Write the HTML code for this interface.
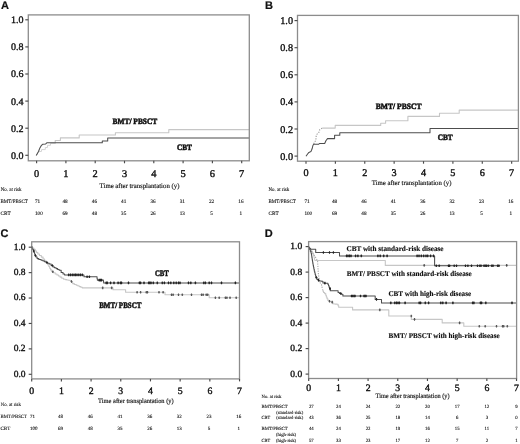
<!DOCTYPE html>
<html><head><meta charset="utf-8"><title>Figure</title>
<style>html,body{margin:0;padding:0;background:#fff;overflow:hidden;}svg{display:block;filter:grayscale(1) blur(0.35px);text-rendering:geometricPrecision;}</style>
</head><body><svg width="520" height="444" viewBox="0 0 520 444"><text x="1.10" y="9.00" font-family="Liberation Sans, sans-serif" font-size="11.00" font-weight="bold" text-anchor="start" fill="#111"  stroke="#111" stroke-width="0.20">A</text><path d="M36.60 155.30 L38.50 151.50 L41.50 151.50 L41.50 149.60 L45.30 149.60 L45.30 147.50 L47.50 147.50 L47.50 145.30 L50.50 145.30 L50.50 143.20" fill="none" stroke="#d4d4d4" stroke-width="1.00" stroke-linejoin="round" /><path d="M50.50 143.20 L55.20 143.20 L55.20 140.50 L60.40 140.50 L60.40 137.90 L79.20 137.90 L79.20 135.00 L115.40 135.00 L115.40 132.70 L168.80 132.70 L168.80 129.60 L249.30 129.60" fill="none" stroke="#c6c6c6" stroke-width="1.10" stroke-linejoin="round" /><path d="M36.20 155.40 L38.50 151.50 L39.90 147.90 L41.20 145.70 L42.60 144.30 L45.70 143.90 L46.80 142.80 L102.30 142.80 L102.30 141.00 L107.70 141.00 L107.70 138.00 L249.30 138.00" fill="none" stroke="#4d4d4d" stroke-width="1.05" stroke-linejoin="round" /><rect x="28.30" y="14.90" width="221.00" height="145.90" fill="none" stroke="#8c8c8c" stroke-width="1.30"/><line x1="25.30" y1="155.30" x2="28.30" y2="155.30" stroke="#4a4a4a" stroke-width="1.15"/><text x="23.40" y="158.70" font-family="Liberation Serif, serif" font-size="10.00" font-weight="normal" text-anchor="end" fill="#111"  stroke="#111" stroke-width="0.36">0.0</text><line x1="25.30" y1="128.20" x2="28.30" y2="128.20" stroke="#4a4a4a" stroke-width="1.15"/><text x="23.40" y="131.60" font-family="Liberation Serif, serif" font-size="10.00" font-weight="normal" text-anchor="end" fill="#111"  stroke="#111" stroke-width="0.36">0.2</text><line x1="25.30" y1="101.10" x2="28.30" y2="101.10" stroke="#4a4a4a" stroke-width="1.15"/><text x="23.40" y="104.50" font-family="Liberation Serif, serif" font-size="10.00" font-weight="normal" text-anchor="end" fill="#111"  stroke="#111" stroke-width="0.36">0.4</text><line x1="25.30" y1="74.00" x2="28.30" y2="74.00" stroke="#4a4a4a" stroke-width="1.15"/><text x="23.40" y="77.40" font-family="Liberation Serif, serif" font-size="10.00" font-weight="normal" text-anchor="end" fill="#111"  stroke="#111" stroke-width="0.36">0.6</text><line x1="25.30" y1="46.90" x2="28.30" y2="46.90" stroke="#4a4a4a" stroke-width="1.15"/><text x="23.40" y="50.30" font-family="Liberation Serif, serif" font-size="10.00" font-weight="normal" text-anchor="end" fill="#111"  stroke="#111" stroke-width="0.36">0.8</text><line x1="25.30" y1="19.80" x2="28.30" y2="19.80" stroke="#4a4a4a" stroke-width="1.15"/><text x="23.40" y="23.20" font-family="Liberation Serif, serif" font-size="10.00" font-weight="normal" text-anchor="end" fill="#111"  stroke="#111" stroke-width="0.36">1.0</text><line x1="36.60" y1="160.80" x2="36.60" y2="163.30" stroke="#4a4a4a" stroke-width="1.15"/><text x="36.60" y="176.80" font-family="Liberation Serif, serif" font-size="10.40" font-weight="normal" text-anchor="middle" fill="#111"  stroke="#111" stroke-width="0.38">0</text><line x1="65.90" y1="160.80" x2="65.90" y2="163.30" stroke="#4a4a4a" stroke-width="1.15"/><text x="65.90" y="176.80" font-family="Liberation Serif, serif" font-size="10.40" font-weight="normal" text-anchor="middle" fill="#111"  stroke="#111" stroke-width="0.38">1</text><line x1="95.20" y1="160.80" x2="95.20" y2="163.30" stroke="#4a4a4a" stroke-width="1.15"/><text x="95.20" y="176.80" font-family="Liberation Serif, serif" font-size="10.40" font-weight="normal" text-anchor="middle" fill="#111"  stroke="#111" stroke-width="0.38">2</text><line x1="124.50" y1="160.80" x2="124.50" y2="163.30" stroke="#4a4a4a" stroke-width="1.15"/><text x="124.50" y="176.80" font-family="Liberation Serif, serif" font-size="10.40" font-weight="normal" text-anchor="middle" fill="#111"  stroke="#111" stroke-width="0.38">3</text><line x1="153.80" y1="160.80" x2="153.80" y2="163.30" stroke="#4a4a4a" stroke-width="1.15"/><text x="153.80" y="176.80" font-family="Liberation Serif, serif" font-size="10.40" font-weight="normal" text-anchor="middle" fill="#111"  stroke="#111" stroke-width="0.38">4</text><line x1="183.10" y1="160.80" x2="183.10" y2="163.30" stroke="#4a4a4a" stroke-width="1.15"/><text x="183.10" y="176.80" font-family="Liberation Serif, serif" font-size="10.40" font-weight="normal" text-anchor="middle" fill="#111"  stroke="#111" stroke-width="0.38">5</text><line x1="212.40" y1="160.80" x2="212.40" y2="163.30" stroke="#4a4a4a" stroke-width="1.15"/><text x="212.40" y="176.80" font-family="Liberation Serif, serif" font-size="10.40" font-weight="normal" text-anchor="middle" fill="#111"  stroke="#111" stroke-width="0.38">6</text><line x1="241.70" y1="160.80" x2="241.70" y2="163.30" stroke="#4a4a4a" stroke-width="1.15"/><text x="241.70" y="176.80" font-family="Liberation Serif, serif" font-size="10.40" font-weight="normal" text-anchor="middle" fill="#111"  stroke="#111" stroke-width="0.38">7</text><text x="112.50" y="123.50" font-family="Liberation Serif, serif" font-size="8.20" font-weight="bold" text-anchor="start" fill="#111" textLength="44.80" lengthAdjust="spacingAndGlyphs"  stroke="#111" stroke-width="0.50">BMT/ PBSCT</text><text x="176.90" y="150.00" font-family="Liberation Serif, serif" font-size="8.20" font-weight="bold" text-anchor="start" fill="#111" textLength="15.00" lengthAdjust="spacingAndGlyphs"  stroke="#111" stroke-width="0.50">CBT</text><text x="99.60" y="187.90" font-family="Liberation Serif, serif" font-size="7.00" font-weight="normal" text-anchor="start" fill="#111" textLength="79.80" lengthAdjust="spacingAndGlyphs"  stroke="#111" stroke-width="0.15">Time after transplantation (y)</text><text x="0.80" y="190.80" font-family="Liberation Serif, serif" font-size="5.20" font-weight="normal" text-anchor="start" fill="#111" textLength="20.70" lengthAdjust="spacingAndGlyphs"  stroke="#111" stroke-width="0.11">No. at risk</text><text x="0.50" y="203.20" font-family="Liberation Serif, serif" font-size="5.20" font-weight="normal" text-anchor="start" fill="#111" textLength="27.30" lengthAdjust="spacingAndGlyphs"  stroke="#111" stroke-width="0.11">BMT/PBSCT</text><text x="0.50" y="215.00" font-family="Liberation Serif, serif" font-size="5.20" font-weight="normal" text-anchor="start" fill="#111"  stroke="#111" stroke-width="0.11">CBT</text><text x="35.00" y="203.20" font-family="Liberation Serif, serif" font-size="5.20" font-weight="normal" text-anchor="start" fill="#111"  stroke="#111" stroke-width="0.11">71</text><text x="65.10" y="203.20" font-family="Liberation Serif, serif" font-size="5.20" font-weight="normal" text-anchor="middle" fill="#111"  stroke="#111" stroke-width="0.11">48</text><text x="94.40" y="203.20" font-family="Liberation Serif, serif" font-size="5.20" font-weight="normal" text-anchor="middle" fill="#111"  stroke="#111" stroke-width="0.11">46</text><text x="123.70" y="203.20" font-family="Liberation Serif, serif" font-size="5.20" font-weight="normal" text-anchor="middle" fill="#111"  stroke="#111" stroke-width="0.11">41</text><text x="153.00" y="203.20" font-family="Liberation Serif, serif" font-size="5.20" font-weight="normal" text-anchor="middle" fill="#111"  stroke="#111" stroke-width="0.11">36</text><text x="182.30" y="203.20" font-family="Liberation Serif, serif" font-size="5.20" font-weight="normal" text-anchor="middle" fill="#111"  stroke="#111" stroke-width="0.11">31</text><text x="211.60" y="203.20" font-family="Liberation Serif, serif" font-size="5.20" font-weight="normal" text-anchor="middle" fill="#111"  stroke="#111" stroke-width="0.11">22</text><text x="240.90" y="203.20" font-family="Liberation Serif, serif" font-size="5.20" font-weight="normal" text-anchor="middle" fill="#111"  stroke="#111" stroke-width="0.11">16</text><text x="35.00" y="215.00" font-family="Liberation Serif, serif" font-size="5.20" font-weight="normal" text-anchor="start" fill="#111"  stroke="#111" stroke-width="0.11">100</text><text x="65.10" y="215.00" font-family="Liberation Serif, serif" font-size="5.20" font-weight="normal" text-anchor="middle" fill="#111"  stroke="#111" stroke-width="0.11">69</text><text x="94.40" y="215.00" font-family="Liberation Serif, serif" font-size="5.20" font-weight="normal" text-anchor="middle" fill="#111"  stroke="#111" stroke-width="0.11">48</text><text x="123.70" y="215.00" font-family="Liberation Serif, serif" font-size="5.20" font-weight="normal" text-anchor="middle" fill="#111"  stroke="#111" stroke-width="0.11">35</text><text x="153.00" y="215.00" font-family="Liberation Serif, serif" font-size="5.20" font-weight="normal" text-anchor="middle" fill="#111"  stroke="#111" stroke-width="0.11">26</text><text x="182.30" y="215.00" font-family="Liberation Serif, serif" font-size="5.20" font-weight="normal" text-anchor="middle" fill="#111"  stroke="#111" stroke-width="0.11">13</text><text x="211.60" y="215.00" font-family="Liberation Serif, serif" font-size="5.20" font-weight="normal" text-anchor="middle" fill="#111"  stroke="#111" stroke-width="0.11">5</text><text x="240.90" y="215.00" font-family="Liberation Serif, serif" font-size="5.20" font-weight="normal" text-anchor="middle" fill="#111"  stroke="#111" stroke-width="0.11">1</text><text x="265.00" y="9.00" font-family="Liberation Sans, sans-serif" font-size="11.00" font-weight="bold" text-anchor="start" fill="#111"  stroke="#111" stroke-width="0.20">B</text><path d="M313.70 143.90 L314.50 142.30 L315.80 140.20 L316.20 136.20 L317.00 134.20 L319.00 132.10 L319.80 129.70 L322.20 128.10" fill="none" stroke="#9a9a9a" stroke-width="1.1" stroke-dasharray="1.2 1.3"/><path d="M322.20 128.10 L335.20 128.10 L335.20 125.40 L380.70 125.40 L380.70 123.30 L385.60 123.30 L385.60 120.80 L407.90 120.80 L407.90 116.40 L439.50 116.40 L439.50 113.30 L459.20 113.30 L459.20 110.10 L518.40 110.10" fill="none" stroke="#c6c6c6" stroke-width="1.10" stroke-linejoin="round" /><path d="M306.00 156.20 L307.60 154.00 L308.90 152.40 L310.90 151.60 L312.10 148.80 L312.90 145.50 L313.70 144.30 L318.60 144.30 L319.40 143.50 L324.70 143.50 L325.90 140.70 L327.50 138.60 L334.60 138.60 L334.60 135.20 L339.80 135.20 L339.80 132.70 L430.00 132.70 L430.00 128.50 L518.40 128.50" fill="none" stroke="#4d4d4d" stroke-width="1.05" stroke-linejoin="round" /><rect x="297.50" y="15.40" width="220.90" height="145.80" fill="none" stroke="#8c8c8c" stroke-width="1.30"/><line x1="294.50" y1="156.10" x2="297.50" y2="156.10" stroke="#4a4a4a" stroke-width="1.15"/><text x="293.00" y="159.60" font-family="Liberation Serif, serif" font-size="10.20" font-weight="normal" text-anchor="end" fill="#111"  stroke="#111" stroke-width="0.36">0.0</text><line x1="294.50" y1="129.00" x2="297.50" y2="129.00" stroke="#4a4a4a" stroke-width="1.15"/><text x="293.00" y="132.50" font-family="Liberation Serif, serif" font-size="10.20" font-weight="normal" text-anchor="end" fill="#111"  stroke="#111" stroke-width="0.36">0.2</text><line x1="294.50" y1="101.90" x2="297.50" y2="101.90" stroke="#4a4a4a" stroke-width="1.15"/><text x="293.00" y="105.40" font-family="Liberation Serif, serif" font-size="10.20" font-weight="normal" text-anchor="end" fill="#111"  stroke="#111" stroke-width="0.36">0.4</text><line x1="294.50" y1="74.80" x2="297.50" y2="74.80" stroke="#4a4a4a" stroke-width="1.15"/><text x="293.00" y="78.30" font-family="Liberation Serif, serif" font-size="10.20" font-weight="normal" text-anchor="end" fill="#111"  stroke="#111" stroke-width="0.36">0.6</text><line x1="294.50" y1="47.70" x2="297.50" y2="47.70" stroke="#4a4a4a" stroke-width="1.15"/><text x="293.00" y="51.20" font-family="Liberation Serif, serif" font-size="10.20" font-weight="normal" text-anchor="end" fill="#111"  stroke="#111" stroke-width="0.36">0.8</text><line x1="294.50" y1="20.60" x2="297.50" y2="20.60" stroke="#4a4a4a" stroke-width="1.15"/><text x="293.00" y="24.10" font-family="Liberation Serif, serif" font-size="10.20" font-weight="normal" text-anchor="end" fill="#111"  stroke="#111" stroke-width="0.36">1.0</text><line x1="306.00" y1="161.20" x2="306.00" y2="163.70" stroke="#4a4a4a" stroke-width="1.15"/><text x="306.00" y="175.50" font-family="Liberation Serif, serif" font-size="10.20" font-weight="normal" text-anchor="middle" fill="#111"  stroke="#111" stroke-width="0.38">0</text><line x1="335.38" y1="161.20" x2="335.38" y2="163.70" stroke="#4a4a4a" stroke-width="1.15"/><text x="335.38" y="175.50" font-family="Liberation Serif, serif" font-size="10.20" font-weight="normal" text-anchor="middle" fill="#111"  stroke="#111" stroke-width="0.38">1</text><line x1="364.76" y1="161.20" x2="364.76" y2="163.70" stroke="#4a4a4a" stroke-width="1.15"/><text x="364.76" y="175.50" font-family="Liberation Serif, serif" font-size="10.20" font-weight="normal" text-anchor="middle" fill="#111"  stroke="#111" stroke-width="0.38">2</text><line x1="394.14" y1="161.20" x2="394.14" y2="163.70" stroke="#4a4a4a" stroke-width="1.15"/><text x="394.14" y="175.50" font-family="Liberation Serif, serif" font-size="10.20" font-weight="normal" text-anchor="middle" fill="#111"  stroke="#111" stroke-width="0.38">3</text><line x1="423.52" y1="161.20" x2="423.52" y2="163.70" stroke="#4a4a4a" stroke-width="1.15"/><text x="423.52" y="175.50" font-family="Liberation Serif, serif" font-size="10.20" font-weight="normal" text-anchor="middle" fill="#111"  stroke="#111" stroke-width="0.38">4</text><line x1="452.90" y1="161.20" x2="452.90" y2="163.70" stroke="#4a4a4a" stroke-width="1.15"/><text x="452.90" y="175.50" font-family="Liberation Serif, serif" font-size="10.20" font-weight="normal" text-anchor="middle" fill="#111"  stroke="#111" stroke-width="0.38">5</text><line x1="482.28" y1="161.20" x2="482.28" y2="163.70" stroke="#4a4a4a" stroke-width="1.15"/><text x="482.28" y="175.50" font-family="Liberation Serif, serif" font-size="10.20" font-weight="normal" text-anchor="middle" fill="#111"  stroke="#111" stroke-width="0.38">6</text><line x1="511.66" y1="161.20" x2="511.66" y2="163.70" stroke="#4a4a4a" stroke-width="1.15"/><text x="511.66" y="175.50" font-family="Liberation Serif, serif" font-size="10.20" font-weight="normal" text-anchor="middle" fill="#111"  stroke="#111" stroke-width="0.38">7</text><text x="375.80" y="108.80" font-family="Liberation Serif, serif" font-size="8.20" font-weight="bold" text-anchor="start" fill="#111" textLength="45.70" lengthAdjust="spacingAndGlyphs"  stroke="#111" stroke-width="0.50">BMT/ PBSCT</text><text x="437.70" y="140.20" font-family="Liberation Serif, serif" font-size="8.20" font-weight="bold" text-anchor="start" fill="#111" textLength="15.00" lengthAdjust="spacingAndGlyphs"  stroke="#111" stroke-width="0.50">CBT</text><text x="371.70" y="184.50" font-family="Liberation Serif, serif" font-size="7.00" font-weight="normal" text-anchor="start" fill="#111" textLength="79.80" lengthAdjust="spacingAndGlyphs"  stroke="#111" stroke-width="0.15">Time after transplantation (y)</text><text x="268.50" y="190.80" font-family="Liberation Serif, serif" font-size="5.20" font-weight="normal" text-anchor="start" fill="#111" textLength="20.70" lengthAdjust="spacingAndGlyphs"  stroke="#111" stroke-width="0.11">No. at risk</text><text x="268.50" y="203.20" font-family="Liberation Serif, serif" font-size="5.20" font-weight="normal" text-anchor="start" fill="#111" textLength="27.30" lengthAdjust="spacingAndGlyphs"  stroke="#111" stroke-width="0.11">BMT/PBSCT</text><text x="268.50" y="215.00" font-family="Liberation Serif, serif" font-size="5.20" font-weight="normal" text-anchor="start" fill="#111"  stroke="#111" stroke-width="0.11">CBT</text><text x="304.40" y="203.20" font-family="Liberation Serif, serif" font-size="5.20" font-weight="normal" text-anchor="start" fill="#111"  stroke="#111" stroke-width="0.11">71</text><text x="334.58" y="203.20" font-family="Liberation Serif, serif" font-size="5.20" font-weight="normal" text-anchor="middle" fill="#111"  stroke="#111" stroke-width="0.11">48</text><text x="363.96" y="203.20" font-family="Liberation Serif, serif" font-size="5.20" font-weight="normal" text-anchor="middle" fill="#111"  stroke="#111" stroke-width="0.11">46</text><text x="393.34" y="203.20" font-family="Liberation Serif, serif" font-size="5.20" font-weight="normal" text-anchor="middle" fill="#111"  stroke="#111" stroke-width="0.11">41</text><text x="422.72" y="203.20" font-family="Liberation Serif, serif" font-size="5.20" font-weight="normal" text-anchor="middle" fill="#111"  stroke="#111" stroke-width="0.11">36</text><text x="452.10" y="203.20" font-family="Liberation Serif, serif" font-size="5.20" font-weight="normal" text-anchor="middle" fill="#111"  stroke="#111" stroke-width="0.11">32</text><text x="481.48" y="203.20" font-family="Liberation Serif, serif" font-size="5.20" font-weight="normal" text-anchor="middle" fill="#111"  stroke="#111" stroke-width="0.11">23</text><text x="510.86" y="203.20" font-family="Liberation Serif, serif" font-size="5.20" font-weight="normal" text-anchor="middle" fill="#111"  stroke="#111" stroke-width="0.11">16</text><text x="304.40" y="215.00" font-family="Liberation Serif, serif" font-size="5.20" font-weight="normal" text-anchor="start" fill="#111"  stroke="#111" stroke-width="0.11">100</text><text x="334.58" y="215.00" font-family="Liberation Serif, serif" font-size="5.20" font-weight="normal" text-anchor="middle" fill="#111"  stroke="#111" stroke-width="0.11">69</text><text x="363.96" y="215.00" font-family="Liberation Serif, serif" font-size="5.20" font-weight="normal" text-anchor="middle" fill="#111"  stroke="#111" stroke-width="0.11">48</text><text x="393.34" y="215.00" font-family="Liberation Serif, serif" font-size="5.20" font-weight="normal" text-anchor="middle" fill="#111"  stroke="#111" stroke-width="0.11">35</text><text x="422.72" y="215.00" font-family="Liberation Serif, serif" font-size="5.20" font-weight="normal" text-anchor="middle" fill="#111"  stroke="#111" stroke-width="0.11">26</text><text x="452.10" y="215.00" font-family="Liberation Serif, serif" font-size="5.20" font-weight="normal" text-anchor="middle" fill="#111"  stroke="#111" stroke-width="0.11">13</text><text x="481.48" y="215.00" font-family="Liberation Serif, serif" font-size="5.20" font-weight="normal" text-anchor="middle" fill="#111"  stroke="#111" stroke-width="0.11">5</text><text x="510.86" y="215.00" font-family="Liberation Serif, serif" font-size="5.20" font-weight="normal" text-anchor="middle" fill="#111"  stroke="#111" stroke-width="0.11">1</text><text x="0.60" y="236.50" font-family="Liberation Sans, sans-serif" font-size="11.00" font-weight="bold" text-anchor="start" fill="#111"  stroke="#111" stroke-width="0.20">C</text><path d="M31.60 246.50 L32.35 246.50 L32.35 247.95 L33.10 247.95 L33.85 247.95 L33.85 249.40 L34.60 249.40 L35.25 249.40 L35.25 250.93 L35.90 250.93 L36.55 250.93 L36.55 252.47 L37.20 252.47 L37.85 252.47 L37.85 254.00 L38.50 254.00 L39.45 254.00 L39.45 255.55 L40.40 255.55 L41.35 255.55 L41.35 257.10 L42.30 257.10 L43.07 257.10 L43.07 259.00 L43.85 259.00 L44.62 259.00 L44.62 260.90 L45.40 260.90 L46.17 260.90 L46.17 262.85 L46.95 262.85 L47.73 262.85 L47.73 264.80 L48.50 264.80 L48.88 264.80 L48.88 266.55 L49.25 266.55 L49.62 266.55 L49.62 268.30 L50.00 268.30 L50.58 268.30 L50.58 269.90 L51.15 269.90 L51.72 269.90 L51.72 271.50 L52.30 271.50 L53.27 271.50 L53.27 272.75 L54.25 272.75 L55.23 272.75 L55.23 274.00 L56.20 274.00 L56.97 274.00 L56.97 275.03 L57.73 275.03 L58.50 275.03 L58.50 276.07 L59.27 276.07 L60.03 276.07 L60.03 277.10 L60.80 277.10 L61.75 277.10 L61.75 278.20 L62.70 278.20 L63.65 278.20 L63.65 279.30 L64.60 279.30 L65.38 279.30 L65.38 279.62 L66.15 279.62 L66.92 279.62 L66.92 279.95 L67.70 279.95 L68.47 279.95 L68.47 280.28 L69.25 280.28 L70.03 280.28 L70.03 280.60 L70.80 280.60 L71.42 280.60 L71.42 282.10 L72.05 282.10 L72.67 282.10 L72.67 283.60 L73.30 283.60 L74.30 283.60 L74.30 284.45 L75.30 284.45 L76.30 284.45 L76.30 285.30 L77.30 285.30 L78.03 285.30 L78.03 285.95 L78.75 285.95 L79.47 285.95 L79.47 286.60 L80.20 286.60 L80.92 286.60 L80.92 287.25 L81.65 287.25 L82.38 287.25 L82.38 287.90 L83.10 287.90 L113.00 287.90 L113.00 289.80 L125.60 289.80 L125.60 292.20 L165.00 292.20 L165.00 294.80 L209.20 294.80 L209.20 297.80 L239.50 297.80" fill="none" stroke="#c6c6c6" stroke-width="1.10" stroke-linejoin="round" /><path d="M52.80 270.52V273.12M51.90 271.82H53.70" stroke="#555" stroke-width="1.1" fill="none"/><path d="M71.50 280.14V282.74M70.60 281.44H72.40" stroke="#555" stroke-width="1.1" fill="none"/><path d="M102.70 286.60V289.20M101.80 287.90H103.60" stroke="#555" stroke-width="1.1" fill="none"/><path d="M111.70 286.60V289.20M110.80 287.90H112.60" stroke="#555" stroke-width="1.1" fill="none"/><path d="M137.10 290.90V293.50M136.20 292.20H138.00" stroke="#555" stroke-width="1.1" fill="none"/><path d="M140.60 290.90V293.50M139.70 292.20H141.50" stroke="#555" stroke-width="1.1" fill="none"/><path d="M146.30 290.90V293.50M145.40 292.20H147.20" stroke="#555" stroke-width="1.1" fill="none"/><path d="M147.50 290.90V293.50M146.60 292.20H148.40" stroke="#555" stroke-width="1.1" fill="none"/><path d="M159.00 290.90V293.50M158.10 292.20H159.90" stroke="#555" stroke-width="1.1" fill="none"/><path d="M163.10 290.90V293.50M162.20 292.20H164.00" stroke="#555" stroke-width="1.1" fill="none"/><path d="M171.50 293.50V296.10M170.60 294.80H172.40" stroke="#555" stroke-width="1.1" fill="none"/><path d="M173.10 293.50V296.10M172.20 294.80H174.00" stroke="#555" stroke-width="1.1" fill="none"/><path d="M178.50 293.50V296.10M177.60 294.80H179.40" stroke="#555" stroke-width="1.1" fill="none"/><path d="M182.30 293.50V296.10M181.40 294.80H183.20" stroke="#555" stroke-width="1.1" fill="none"/><path d="M191.50 293.50V296.10M190.60 294.80H192.40" stroke="#555" stroke-width="1.1" fill="none"/><path d="M201.50 293.50V296.10M200.60 294.80H202.40" stroke="#555" stroke-width="1.1" fill="none"/><path d="M203.10 293.50V296.10M202.20 294.80H204.00" stroke="#555" stroke-width="1.1" fill="none"/><path d="M206.20 293.50V296.10M205.30 294.80H207.10" stroke="#555" stroke-width="1.1" fill="none"/><path d="M207.70 293.50V296.10M206.80 294.80H208.60" stroke="#555" stroke-width="1.1" fill="none"/><path d="M215.40 296.50V299.10M214.50 297.80H216.30" stroke="#555" stroke-width="1.1" fill="none"/><path d="M219.20 296.50V299.10M218.30 297.80H220.10" stroke="#555" stroke-width="1.1" fill="none"/><path d="M225.40 296.50V299.10M224.50 297.80H226.30" stroke="#555" stroke-width="1.1" fill="none"/><path d="M226.90 296.50V299.10M226.00 297.80H227.80" stroke="#555" stroke-width="1.1" fill="none"/><path d="M230.00 296.50V299.10M229.10 297.80H230.90" stroke="#555" stroke-width="1.1" fill="none"/><path d="M236.20 296.50V299.10M235.30 297.80H237.10" stroke="#555" stroke-width="1.1" fill="none"/><path d="M31.60 246.50 L31.97 246.50 L31.97 248.00 L32.33 248.00 L32.70 248.00 L32.70 249.50 L33.07 249.50 L33.43 249.50 L33.43 251.00 L33.80 251.00 L34.07 251.00 L34.07 252.50 L34.33 252.50 L34.60 252.50 L34.60 254.00 L34.87 254.00 L35.13 254.00 L35.13 255.50 L35.40 255.50 L35.97 255.50 L35.97 257.05 L36.55 257.05 L37.12 257.05 L37.12 258.60 L37.70 258.60 L38.85 258.60 L38.85 259.40 L40.00 259.40 L41.15 259.40 L41.15 260.20 L42.30 260.20 L43.07 260.20 L43.07 260.97 L43.83 260.97 L44.60 260.97 L44.60 261.73 L45.37 261.73 L46.13 261.73 L46.13 262.50 L46.90 262.50 L47.67 262.50 L47.67 263.25 L48.45 263.25 L49.23 263.25 L49.23 264.00 L50.00 264.00 L51.15 264.00 L51.15 265.50 L52.30 265.50 L53.05 265.50 L53.05 267.00 L53.80 267.00 L54.57 267.00 L54.57 267.80 L55.35 267.80 L56.12 267.80 L56.12 268.60 L56.90 268.60 L57.67 268.60 L57.67 269.40 L58.45 269.40 L59.23 269.40 L59.23 270.20 L60.00 270.20 L61.15 270.20 L61.15 272.50 L62.30 272.50 L63.05 272.50 L63.05 274.00 L63.80 274.00 L64.60 274.00 L64.60 274.90 L65.40 274.90 L83.10 274.90 L83.95 274.90 L83.95 276.70 L84.80 276.70 L96.90 276.70 L97.05 276.70 L97.05 278.40 L97.20 278.40 L97.35 278.40 L97.35 280.10 L97.50 280.10 L103.30 280.10 L103.42 280.10 L103.42 281.50 L103.55 281.50 L103.67 281.50 L103.67 282.90 L103.80 282.90 L239.50 282.90" fill="none" stroke="#4d4d4d" stroke-width="1.05" stroke-linejoin="round" /><path d="M33.80 249.70V252.30M32.90 251.00H34.70" stroke="#222" stroke-width="1.1" fill="none"/><path d="M35.40 254.20V256.80M34.50 255.50H36.30" stroke="#222" stroke-width="1.1" fill="none"/><path d="M46.90 261.20V263.80M46.00 262.50H47.80" stroke="#222" stroke-width="1.1" fill="none"/><path d="M52.30 264.20V266.80M51.40 265.50H53.20" stroke="#222" stroke-width="1.1" fill="none"/><path d="M68.70 273.60V276.20M67.80 274.90H69.60" stroke="#222" stroke-width="1.1" fill="none"/><path d="M70.50 273.60V276.20M69.60 274.90H71.40" stroke="#222" stroke-width="1.1" fill="none"/><path d="M72.30 273.60V276.20M71.40 274.90H73.20" stroke="#222" stroke-width="1.1" fill="none"/><path d="M74.00 273.60V276.20M73.10 274.90H74.90" stroke="#222" stroke-width="1.1" fill="none"/><path d="M75.50 273.60V276.20M74.60 274.90H76.40" stroke="#222" stroke-width="1.1" fill="none"/><path d="M77.00 273.60V276.20M76.10 274.90H77.90" stroke="#222" stroke-width="1.1" fill="none"/><path d="M78.80 273.60V276.20M77.90 274.90H79.70" stroke="#222" stroke-width="1.1" fill="none"/><path d="M80.50 273.60V276.20M79.60 274.90H81.40" stroke="#222" stroke-width="1.1" fill="none"/><path d="M82.30 273.60V276.20M81.40 274.90H83.20" stroke="#222" stroke-width="1.1" fill="none"/><path d="M87.10 275.40V278.00M86.20 276.70H88.00" stroke="#222" stroke-width="1.1" fill="none"/><path d="M89.40 275.40V278.00M88.50 276.70H90.30" stroke="#222" stroke-width="1.1" fill="none"/><path d="M99.20 278.80V281.40M98.30 280.10H100.10" stroke="#222" stroke-width="1.1" fill="none"/><path d="M100.40 278.80V281.40M99.50 280.10H101.30" stroke="#222" stroke-width="1.1" fill="none"/><path d="M101.50 278.80V281.40M100.60 280.10H102.40" stroke="#222" stroke-width="1.1" fill="none"/><path d="M106.20 281.60V284.20M105.30 282.90H107.10" stroke="#222" stroke-width="1.1" fill="none"/><path d="M107.30 281.60V284.20M106.40 282.90H108.20" stroke="#222" stroke-width="1.1" fill="none"/><path d="M110.60 281.60V284.20M109.70 282.90H111.50" stroke="#222" stroke-width="1.1" fill="none"/><path d="M114.00 281.60V284.20M113.10 282.90H114.90" stroke="#222" stroke-width="1.1" fill="none"/><path d="M118.10 281.60V284.20M117.20 282.90H119.00" stroke="#222" stroke-width="1.1" fill="none"/><path d="M120.40 281.60V284.20M119.50 282.90H121.30" stroke="#222" stroke-width="1.1" fill="none"/><path d="M121.50 281.60V284.20M120.60 282.90H122.40" stroke="#222" stroke-width="1.1" fill="none"/><path d="M128.50 281.60V284.20M127.60 282.90H129.40" stroke="#222" stroke-width="1.1" fill="none"/><path d="M139.40 281.60V284.20M138.50 282.90H140.30" stroke="#222" stroke-width="1.1" fill="none"/><path d="M140.60 281.60V284.20M139.70 282.90H141.50" stroke="#222" stroke-width="1.1" fill="none"/><path d="M144.00 281.60V284.20M143.10 282.90H144.90" stroke="#222" stroke-width="1.1" fill="none"/><path d="M148.70 281.60V284.20M147.80 282.90H149.60" stroke="#222" stroke-width="1.1" fill="none"/><path d="M149.80 281.60V284.20M148.90 282.90H150.70" stroke="#222" stroke-width="1.1" fill="none"/><path d="M151.00 281.60V284.20M150.10 282.90H151.90" stroke="#222" stroke-width="1.1" fill="none"/><path d="M153.30 281.60V284.20M152.40 282.90H154.20" stroke="#222" stroke-width="1.1" fill="none"/><path d="M157.30 281.60V284.20M156.40 282.90H158.20" stroke="#222" stroke-width="1.1" fill="none"/><path d="M162.30 281.60V284.20M161.40 282.90H163.20" stroke="#222" stroke-width="1.1" fill="none"/><path d="M164.40 281.60V284.20M163.50 282.90H165.30" stroke="#222" stroke-width="1.1" fill="none"/><path d="M168.50 281.60V284.20M167.60 282.90H169.40" stroke="#222" stroke-width="1.1" fill="none"/><path d="M170.80 281.60V284.20M169.90 282.90H171.70" stroke="#222" stroke-width="1.1" fill="none"/><path d="M173.80 281.60V284.20M172.90 282.90H174.70" stroke="#222" stroke-width="1.1" fill="none"/><path d="M176.20 281.60V284.20M175.30 282.90H177.10" stroke="#222" stroke-width="1.1" fill="none"/><path d="M178.50 281.60V284.20M177.60 282.90H179.40" stroke="#222" stroke-width="1.1" fill="none"/><path d="M180.00 281.60V284.20M179.10 282.90H180.90" stroke="#222" stroke-width="1.1" fill="none"/><path d="M188.50 281.60V284.20M187.60 282.90H189.40" stroke="#222" stroke-width="1.1" fill="none"/><path d="M190.80 281.60V284.20M189.90 282.90H191.70" stroke="#222" stroke-width="1.1" fill="none"/><path d="M195.40 281.60V284.20M194.50 282.90H196.30" stroke="#222" stroke-width="1.1" fill="none"/><path d="M203.80 281.60V284.20M202.90 282.90H204.70" stroke="#222" stroke-width="1.1" fill="none"/><path d="M205.40 281.60V284.20M204.50 282.90H206.30" stroke="#222" stroke-width="1.1" fill="none"/><path d="M209.20 281.60V284.20M208.30 282.90H210.10" stroke="#222" stroke-width="1.1" fill="none"/><path d="M211.50 281.60V284.20M210.60 282.90H212.40" stroke="#222" stroke-width="1.1" fill="none"/><path d="M221.50 281.60V284.20M220.60 282.90H222.40" stroke="#222" stroke-width="1.1" fill="none"/><path d="M235.40 281.60V284.20M234.50 282.90H236.30" stroke="#222" stroke-width="1.1" fill="none"/><rect x="31.70" y="241.80" width="207.80" height="137.10" fill="none" stroke="#8c8c8c" stroke-width="1.30"/><line x1="28.70" y1="374.30" x2="31.70" y2="374.30" stroke="#4a4a4a" stroke-width="1.15"/><text x="25.60" y="376.70" font-family="Liberation Serif, serif" font-size="9.50" font-weight="normal" text-anchor="end" fill="#111"  stroke="#111" stroke-width="0.36">0.0</text><line x1="28.70" y1="348.88" x2="31.70" y2="348.88" stroke="#4a4a4a" stroke-width="1.15"/><text x="25.60" y="351.28" font-family="Liberation Serif, serif" font-size="9.50" font-weight="normal" text-anchor="end" fill="#111"  stroke="#111" stroke-width="0.36">0.2</text><line x1="28.70" y1="323.46" x2="31.70" y2="323.46" stroke="#4a4a4a" stroke-width="1.15"/><text x="25.60" y="325.86" font-family="Liberation Serif, serif" font-size="9.50" font-weight="normal" text-anchor="end" fill="#111"  stroke="#111" stroke-width="0.36">0.4</text><line x1="28.70" y1="298.04" x2="31.70" y2="298.04" stroke="#4a4a4a" stroke-width="1.15"/><text x="25.60" y="300.44" font-family="Liberation Serif, serif" font-size="9.50" font-weight="normal" text-anchor="end" fill="#111"  stroke="#111" stroke-width="0.36">0.6</text><line x1="28.70" y1="272.62" x2="31.70" y2="272.62" stroke="#4a4a4a" stroke-width="1.15"/><text x="25.60" y="275.02" font-family="Liberation Serif, serif" font-size="9.50" font-weight="normal" text-anchor="end" fill="#111"  stroke="#111" stroke-width="0.36">0.8</text><line x1="28.70" y1="247.20" x2="31.70" y2="247.20" stroke="#4a4a4a" stroke-width="1.15"/><text x="25.60" y="249.60" font-family="Liberation Serif, serif" font-size="9.50" font-weight="normal" text-anchor="end" fill="#111"  stroke="#111" stroke-width="0.36">1.0</text><line x1="31.70" y1="378.90" x2="31.70" y2="381.40" stroke="#4a4a4a" stroke-width="1.15"/><text x="31.70" y="393.60" font-family="Liberation Serif, serif" font-size="9.80" font-weight="normal" text-anchor="middle" fill="#111"  stroke="#111" stroke-width="0.38">0</text><line x1="61.39" y1="378.90" x2="61.39" y2="381.40" stroke="#4a4a4a" stroke-width="1.15"/><text x="61.39" y="393.60" font-family="Liberation Serif, serif" font-size="9.80" font-weight="normal" text-anchor="middle" fill="#111"  stroke="#111" stroke-width="0.38">1</text><line x1="91.08" y1="378.90" x2="91.08" y2="381.40" stroke="#4a4a4a" stroke-width="1.15"/><text x="91.08" y="393.60" font-family="Liberation Serif, serif" font-size="9.80" font-weight="normal" text-anchor="middle" fill="#111"  stroke="#111" stroke-width="0.38">2</text><line x1="120.77" y1="378.90" x2="120.77" y2="381.40" stroke="#4a4a4a" stroke-width="1.15"/><text x="120.77" y="393.60" font-family="Liberation Serif, serif" font-size="9.80" font-weight="normal" text-anchor="middle" fill="#111"  stroke="#111" stroke-width="0.38">3</text><line x1="150.46" y1="378.90" x2="150.46" y2="381.40" stroke="#4a4a4a" stroke-width="1.15"/><text x="150.46" y="393.60" font-family="Liberation Serif, serif" font-size="9.80" font-weight="normal" text-anchor="middle" fill="#111"  stroke="#111" stroke-width="0.38">4</text><line x1="180.15" y1="378.90" x2="180.15" y2="381.40" stroke="#4a4a4a" stroke-width="1.15"/><text x="180.15" y="393.60" font-family="Liberation Serif, serif" font-size="9.80" font-weight="normal" text-anchor="middle" fill="#111"  stroke="#111" stroke-width="0.38">5</text><line x1="209.84" y1="378.90" x2="209.84" y2="381.40" stroke="#4a4a4a" stroke-width="1.15"/><text x="209.84" y="393.60" font-family="Liberation Serif, serif" font-size="9.80" font-weight="normal" text-anchor="middle" fill="#111"  stroke="#111" stroke-width="0.38">6</text><line x1="239.53" y1="378.90" x2="239.53" y2="381.40" stroke="#4a4a4a" stroke-width="1.15"/><text x="239.53" y="393.60" font-family="Liberation Serif, serif" font-size="9.80" font-weight="normal" text-anchor="middle" fill="#111"  stroke="#111" stroke-width="0.38">7</text><text x="99.20" y="308.10" font-family="Liberation Serif, serif" font-size="8.30" font-weight="bold" text-anchor="start" fill="#111" textLength="42.30" lengthAdjust="spacingAndGlyphs"  stroke="#111" stroke-width="0.50">BMT/ PBSCT</text><text x="155.00" y="276.30" font-family="Liberation Serif, serif" font-size="8.30" font-weight="bold" text-anchor="start" fill="#111" textLength="13.80" lengthAdjust="spacingAndGlyphs"  stroke="#111" stroke-width="0.50">CBT</text><text x="98.10" y="402.70" font-family="Liberation Serif, serif" font-size="6.80" font-weight="normal" text-anchor="start" fill="#111" textLength="75.60" lengthAdjust="spacingAndGlyphs"  stroke="#111" stroke-width="0.15">Time after transplantation (y)</text><text x="0.80" y="406.20" font-family="Liberation Serif, serif" font-size="5.00" font-weight="normal" text-anchor="start" fill="#111" textLength="20.00" lengthAdjust="spacingAndGlyphs"  stroke="#111" stroke-width="0.11">No. at risk</text><text x="0.50" y="418.20" font-family="Liberation Serif, serif" font-size="5.00" font-weight="normal" text-anchor="start" fill="#111" textLength="26.50" lengthAdjust="spacingAndGlyphs"  stroke="#111" stroke-width="0.11">BMT/PBSCT</text><text x="0.50" y="429.60" font-family="Liberation Serif, serif" font-size="5.00" font-weight="normal" text-anchor="start" fill="#111"  stroke="#111" stroke-width="0.11">CBT</text><text x="30.10" y="418.20" font-family="Liberation Serif, serif" font-size="5.00" font-weight="normal" text-anchor="start" fill="#111"  stroke="#111" stroke-width="0.11">71</text><text x="60.59" y="418.20" font-family="Liberation Serif, serif" font-size="5.00" font-weight="normal" text-anchor="middle" fill="#111"  stroke="#111" stroke-width="0.11">48</text><text x="90.28" y="418.20" font-family="Liberation Serif, serif" font-size="5.00" font-weight="normal" text-anchor="middle" fill="#111"  stroke="#111" stroke-width="0.11">46</text><text x="119.97" y="418.20" font-family="Liberation Serif, serif" font-size="5.00" font-weight="normal" text-anchor="middle" fill="#111"  stroke="#111" stroke-width="0.11">41</text><text x="149.66" y="418.20" font-family="Liberation Serif, serif" font-size="5.00" font-weight="normal" text-anchor="middle" fill="#111"  stroke="#111" stroke-width="0.11">36</text><text x="179.35" y="418.20" font-family="Liberation Serif, serif" font-size="5.00" font-weight="normal" text-anchor="middle" fill="#111"  stroke="#111" stroke-width="0.11">32</text><text x="209.04" y="418.20" font-family="Liberation Serif, serif" font-size="5.00" font-weight="normal" text-anchor="middle" fill="#111"  stroke="#111" stroke-width="0.11">23</text><text x="238.73" y="418.20" font-family="Liberation Serif, serif" font-size="5.00" font-weight="normal" text-anchor="middle" fill="#111"  stroke="#111" stroke-width="0.11">16</text><text x="30.10" y="429.60" font-family="Liberation Serif, serif" font-size="5.00" font-weight="normal" text-anchor="start" fill="#111"  stroke="#111" stroke-width="0.11">100</text><text x="60.59" y="429.60" font-family="Liberation Serif, serif" font-size="5.00" font-weight="normal" text-anchor="middle" fill="#111"  stroke="#111" stroke-width="0.11">69</text><text x="90.28" y="429.60" font-family="Liberation Serif, serif" font-size="5.00" font-weight="normal" text-anchor="middle" fill="#111"  stroke="#111" stroke-width="0.11">48</text><text x="119.97" y="429.60" font-family="Liberation Serif, serif" font-size="5.00" font-weight="normal" text-anchor="middle" fill="#111"  stroke="#111" stroke-width="0.11">35</text><text x="149.66" y="429.60" font-family="Liberation Serif, serif" font-size="5.00" font-weight="normal" text-anchor="middle" fill="#111"  stroke="#111" stroke-width="0.11">26</text><text x="179.35" y="429.60" font-family="Liberation Serif, serif" font-size="5.00" font-weight="normal" text-anchor="middle" fill="#111"  stroke="#111" stroke-width="0.11">13</text><text x="209.04" y="429.60" font-family="Liberation Serif, serif" font-size="5.00" font-weight="normal" text-anchor="middle" fill="#111"  stroke="#111" stroke-width="0.11">5</text><text x="238.73" y="429.60" font-family="Liberation Serif, serif" font-size="5.00" font-weight="normal" text-anchor="middle" fill="#111"  stroke="#111" stroke-width="0.11">1</text><text x="264.80" y="236.50" font-family="Liberation Sans, sans-serif" font-size="11.00" font-weight="bold" text-anchor="start" fill="#111"  stroke="#111" stroke-width="0.20">D</text><path d="M308.60 246.90 L310.00 248.50 L312.00 251.00 L313.60 254.80 L314.90 260.50 L385.30 260.50 L385.30 265.40 L516.60 265.40" fill="none" stroke="#c6c6c6" stroke-width="1.10" stroke-linejoin="round" /><path d="M308.60 246.90 L310.00 249.00 L312.00 252.00 L314.00 255.00 L316.00 258.00 L317.60 261.00 L318.10 270.00 L318.50 275.00 L319.80 282.40 L321.50 284.60 L322.60 289.70" fill="none" stroke="#a8a8a8" stroke-width="1.1" stroke-dasharray="1.2 1.2"/><path d="M322.60 289.70 L322.90 289.70 L322.90 291.10 L323.20 291.10 L323.50 291.10 L323.50 292.50 L323.80 292.50 L324.65 292.50 L324.65 293.60 L325.50 293.60 L325.77 293.60 L325.77 295.30 L326.05 295.30 L326.33 295.30 L326.33 297.00 L326.60 297.00 L327.03 297.00 L327.03 298.70 L327.45 298.70 L327.88 298.70 L327.88 300.40 L328.30 300.40 L329.15 300.40 L329.15 301.50 L330.00 301.50 L331.10 301.50 L331.10 302.10 L332.20 302.10 L332.75 302.10 L332.75 303.80 L333.30 303.80 L334.05 303.80 L334.05 303.97 L334.80 303.97 L335.55 303.97 L335.55 304.13 L336.30 304.13 L337.05 304.13 L337.05 304.30 L337.80 304.30 L338.10 304.30 L338.10 305.75 L338.40 305.75 L338.70 305.75 L338.70 307.20 L339.00 307.20 L352.60 307.20 L352.60 309.90 L388.80 309.90 L388.80 316.00 L411.30 316.00 L411.30 319.40 L442.20 319.40 L442.20 322.90 L463.80 322.90 L463.80 326.20 L516.60 326.20" fill="none" stroke="#c6c6c6" stroke-width="1.10" stroke-linejoin="round" /><path d="M329.50 299.88V302.48M328.60 301.18H330.40" stroke="#555" stroke-width="1.1" fill="none"/><path d="M332.20 300.80V303.40M331.30 302.10H333.10" stroke="#555" stroke-width="1.1" fill="none"/><path d="M379.80 308.60V311.20M378.90 309.90H380.70" stroke="#555" stroke-width="1.1" fill="none"/><path d="M411.30 314.70V317.30M410.40 316.00H412.20" stroke="#555" stroke-width="1.1" fill="none"/><path d="M414.50 318.10V320.70M413.60 319.40H415.40" stroke="#555" stroke-width="1.1" fill="none"/><path d="M459.60 321.60V324.20M458.70 322.90H460.50" stroke="#555" stroke-width="1.1" fill="none"/><path d="M479.30 324.90V327.50M478.40 326.20H480.20" stroke="#555" stroke-width="1.1" fill="none"/><path d="M485.20 324.90V327.50M484.30 326.20H486.10" stroke="#555" stroke-width="1.1" fill="none"/><path d="M496.50 324.90V327.50M495.60 326.20H497.40" stroke="#555" stroke-width="1.1" fill="none"/><path d="M502.50 324.90V327.50M501.60 326.20H503.40" stroke="#555" stroke-width="1.1" fill="none"/><path d="M503.70 324.90V327.50M502.80 326.20H504.60" stroke="#555" stroke-width="1.1" fill="none"/><path d="M507.30 324.90V327.50M506.40 326.20H508.20" stroke="#555" stroke-width="1.1" fill="none"/><path d="M424.20 264.10V266.70M423.30 265.40H425.10" stroke="#555" stroke-width="1.1" fill="none"/><path d="M308.60 246.90 L311.00 249.20 L315.70 249.20 L315.70 252.50 L339.50 252.50 L339.50 255.90 L434.60 255.90 L434.60 265.80 L500.00 265.80" fill="none" stroke="#4d4d4d" stroke-width="1.05" stroke-linejoin="round" /><path d="M323.40 251.20V253.80M322.50 252.50H324.30" stroke="#222" stroke-width="1.1" fill="none"/><path d="M329.50 251.20V253.80M328.60 252.50H330.40" stroke="#222" stroke-width="1.1" fill="none"/><path d="M333.40 251.20V253.80M332.50 252.50H334.30" stroke="#222" stroke-width="1.1" fill="none"/><path d="M346.60 254.60V257.20M345.70 255.90H347.50" stroke="#222" stroke-width="1.1" fill="none"/><path d="M348.00 254.60V257.20M347.10 255.90H348.90" stroke="#222" stroke-width="1.1" fill="none"/><path d="M349.50 254.60V257.20M348.60 255.90H350.40" stroke="#222" stroke-width="1.1" fill="none"/><path d="M351.00 254.60V257.20M350.10 255.90H351.90" stroke="#222" stroke-width="1.1" fill="none"/><path d="M355.60 254.60V257.20M354.70 255.90H356.50" stroke="#222" stroke-width="1.1" fill="none"/><path d="M357.90 254.60V257.20M357.00 255.90H358.80" stroke="#222" stroke-width="1.1" fill="none"/><path d="M361.30 254.60V257.20M360.40 255.90H362.20" stroke="#222" stroke-width="1.1" fill="none"/><path d="M377.90 254.60V257.20M377.00 255.90H378.80" stroke="#222" stroke-width="1.1" fill="none"/><path d="M380.20 254.60V257.20M379.30 255.90H381.10" stroke="#222" stroke-width="1.1" fill="none"/><path d="M383.70 254.60V257.20M382.80 255.90H384.60" stroke="#222" stroke-width="1.1" fill="none"/><path d="M387.10 254.60V257.20M386.20 255.90H388.00" stroke="#222" stroke-width="1.1" fill="none"/><path d="M417.10 254.60V257.20M416.20 255.90H418.00" stroke="#222" stroke-width="1.1" fill="none"/><path d="M419.00 254.60V257.20M418.10 255.90H419.90" stroke="#222" stroke-width="1.1" fill="none"/><path d="M421.30 254.60V257.20M420.40 255.90H422.20" stroke="#222" stroke-width="1.1" fill="none"/><path d="M423.70 254.60V257.20M422.80 255.90H424.60" stroke="#222" stroke-width="1.1" fill="none"/><path d="M426.00 254.60V257.20M425.10 255.90H426.90" stroke="#222" stroke-width="1.1" fill="none"/><path d="M427.70 254.60V257.20M426.80 255.90H428.60" stroke="#222" stroke-width="1.1" fill="none"/><path d="M430.60 254.60V257.20M429.70 255.90H431.50" stroke="#222" stroke-width="1.1" fill="none"/><path d="M433.50 254.60V257.20M432.60 255.90H434.40" stroke="#222" stroke-width="1.1" fill="none"/><path d="M436.30 264.50V267.10M435.40 265.80H437.20" stroke="#222" stroke-width="1.1" fill="none"/><path d="M439.20 264.50V267.10M438.30 265.80H440.10" stroke="#222" stroke-width="1.1" fill="none"/><path d="M448.50 264.50V267.10M447.60 265.80H449.40" stroke="#222" stroke-width="1.1" fill="none"/><path d="M449.60 264.50V267.10M448.70 265.80H450.50" stroke="#222" stroke-width="1.1" fill="none"/><path d="M454.20 264.50V267.10M453.30 265.80H455.10" stroke="#222" stroke-width="1.1" fill="none"/><path d="M456.50 264.50V267.10M455.60 265.80H457.40" stroke="#222" stroke-width="1.1" fill="none"/><path d="M465.50 264.50V267.10M464.60 265.80H466.40" stroke="#222" stroke-width="1.1" fill="none"/><path d="M467.90 264.50V267.10M467.00 265.80H468.80" stroke="#222" stroke-width="1.1" fill="none"/><path d="M471.50 264.50V267.10M470.60 265.80H472.40" stroke="#222" stroke-width="1.1" fill="none"/><path d="M477.50 264.50V267.10M476.60 265.80H478.40" stroke="#222" stroke-width="1.1" fill="none"/><path d="M479.80 264.50V267.10M478.90 265.80H480.70" stroke="#222" stroke-width="1.1" fill="none"/><path d="M481.00 264.50V267.10M480.10 265.80H481.90" stroke="#222" stroke-width="1.1" fill="none"/><path d="M484.00 264.50V267.10M483.10 265.80H484.90" stroke="#222" stroke-width="1.1" fill="none"/><path d="M485.20 264.50V267.10M484.30 265.80H486.10" stroke="#222" stroke-width="1.1" fill="none"/><path d="M486.40 264.50V267.10M485.50 265.80H487.30" stroke="#222" stroke-width="1.1" fill="none"/><path d="M488.20 264.50V267.10M487.30 265.80H489.10" stroke="#222" stroke-width="1.1" fill="none"/><path d="M491.80 264.50V267.10M490.90 265.80H492.70" stroke="#222" stroke-width="1.1" fill="none"/><path d="M493.00 264.50V267.10M492.10 265.80H493.90" stroke="#222" stroke-width="1.1" fill="none"/><path d="M497.70 264.50V267.10M496.80 265.80H498.60" stroke="#222" stroke-width="1.1" fill="none"/><path d="M498.90 264.50V267.10M498.00 265.80H499.80" stroke="#222" stroke-width="1.1" fill="none"/><path d="M506.70 264.10V266.70M505.80 265.40H507.60" stroke="#444" stroke-width="1.1" fill="none"/><path d="M308.60 246.90 L308.95 246.90 L308.95 248.15 L309.30 248.15 L309.65 248.15 L309.65 249.40 L310.00 249.40 L310.32 249.40 L310.32 251.20 L310.65 251.20 L310.98 251.20 L310.98 253.00 L311.30 253.00 L311.42 253.00 L311.42 254.50 L311.53 254.50 L311.65 254.50 L311.65 256.00 L311.77 256.00 L311.88 256.00 L311.88 257.50 L312.00 257.50 L312.12 257.50 L312.12 259.00 L312.23 259.00 L312.35 259.00 L312.35 260.50 L312.47 260.50 L312.58 260.50 L312.58 262.00 L312.70 262.00 L312.85 262.00 L312.85 263.67 L313.00 263.67 L313.15 263.67 L313.15 265.33 L313.30 265.33 L313.45 265.33 L313.45 267.00 L313.60 267.00 L313.83 267.00 L313.83 269.00 L314.05 269.00 L314.27 269.00 L314.27 271.00 L314.50 271.00 L314.73 271.00 L314.73 272.80 L314.95 272.80 L315.17 272.80 L315.17 274.60 L315.40 274.60 L315.62 274.60 L315.62 276.05 L315.85 276.05 L316.08 276.05 L316.08 277.50 L316.30 277.50 L316.95 277.50 L316.95 279.40 L317.60 279.40 L318.45 279.40 L318.45 280.70 L319.30 280.70 L320.00 280.70 L320.00 281.00 L320.70 281.00 L321.40 281.00 L321.40 281.30 L322.10 281.30 L322.95 281.30 L322.95 283.00 L323.80 283.00 L324.77 283.00 L324.77 283.15 L325.75 283.15 L326.73 283.15 L326.73 283.30 L327.70 283.30 L327.98 283.30 L327.98 284.55 L328.25 284.55 L328.52 284.55 L328.52 285.80 L328.80 285.80 L329.10 285.80 L329.10 287.20 L329.40 287.20 L329.70 287.20 L329.70 288.60 L330.00 288.60 L330.25 288.60 L330.25 290.80 L330.50 290.80 L337.80 290.80 L338.10 290.80 L338.10 292.50 L338.40 292.50 L339.38 292.50 L339.38 293.35 L340.35 293.35 L341.33 293.35 L341.33 294.20 L342.30 294.20 L342.90 294.20 L342.90 296.00 L343.50 296.00 L375.20 296.00 L375.20 299.40 L381.50 299.40 L381.50 302.90 L516.60 302.90" fill="none" stroke="#4d4d4d" stroke-width="1.05" stroke-linejoin="round" /><path d="M316.30 276.20V278.80M315.40 277.50H317.20" stroke="#222" stroke-width="1.1" fill="none"/><path d="M318.50 278.79V281.39M317.60 280.09H319.40" stroke="#222" stroke-width="1.1" fill="none"/><path d="M324.90 281.78V284.38M324.00 283.08H325.80" stroke="#222" stroke-width="1.1" fill="none"/><path d="M330.00 287.30V289.90M329.10 288.60H330.90" stroke="#222" stroke-width="1.1" fill="none"/><path d="M340.70 292.20V294.80M339.80 293.50H341.60" stroke="#222" stroke-width="1.1" fill="none"/><path d="M351.50 294.70V297.30M350.60 296.00H352.40" stroke="#222" stroke-width="1.1" fill="none"/><path d="M352.70 294.70V297.30M351.80 296.00H353.60" stroke="#222" stroke-width="1.1" fill="none"/><path d="M354.00 294.70V297.30M353.10 296.00H354.90" stroke="#222" stroke-width="1.1" fill="none"/><path d="M355.00 294.70V297.30M354.10 296.00H355.90" stroke="#222" stroke-width="1.1" fill="none"/><path d="M360.50 294.70V297.30M359.60 296.00H361.40" stroke="#222" stroke-width="1.1" fill="none"/><path d="M364.00 294.70V297.30M363.10 296.00H364.90" stroke="#222" stroke-width="1.1" fill="none"/><path d="M365.00 294.70V297.30M364.10 296.00H365.90" stroke="#222" stroke-width="1.1" fill="none"/><path d="M366.00 294.70V297.30M365.10 296.00H366.90" stroke="#222" stroke-width="1.1" fill="none"/><path d="M376.50 298.10V300.70M375.60 299.40H377.40" stroke="#222" stroke-width="1.1" fill="none"/><path d="M390.80 301.60V304.20M389.90 302.90H391.70" stroke="#222" stroke-width="1.1" fill="none"/><path d="M394.80 301.60V304.20M393.90 302.90H395.70" stroke="#222" stroke-width="1.1" fill="none"/><path d="M396.50 301.60V304.20M395.60 302.90H397.40" stroke="#222" stroke-width="1.1" fill="none"/><path d="M398.00 301.60V304.20M397.10 302.90H398.90" stroke="#222" stroke-width="1.1" fill="none"/><path d="M399.40 301.60V304.20M398.50 302.90H400.30" stroke="#222" stroke-width="1.1" fill="none"/><path d="M405.10 301.60V304.20M404.20 302.90H406.00" stroke="#222" stroke-width="1.1" fill="none"/><path d="M419.20 301.60V304.20M418.30 302.90H420.10" stroke="#222" stroke-width="1.1" fill="none"/><path d="M420.60 301.60V304.20M419.70 302.90H421.50" stroke="#222" stroke-width="1.1" fill="none"/><path d="M425.30 301.60V304.20M424.40 302.90H426.20" stroke="#222" stroke-width="1.1" fill="none"/><path d="M428.60 301.60V304.20M427.70 302.90H429.50" stroke="#222" stroke-width="1.1" fill="none"/><path d="M440.80 301.60V304.20M439.90 302.90H441.70" stroke="#222" stroke-width="1.1" fill="none"/><path d="M442.80 301.60V304.20M441.90 302.90H443.70" stroke="#222" stroke-width="1.1" fill="none"/><path d="M446.10 301.60V304.20M445.20 302.90H447.00" stroke="#222" stroke-width="1.1" fill="none"/><path d="M452.90 301.60V304.20M452.00 302.90H453.80" stroke="#222" stroke-width="1.1" fill="none"/><path d="M472.70 301.60V304.20M471.80 302.90H473.60" stroke="#222" stroke-width="1.1" fill="none"/><path d="M473.90 301.60V304.20M473.00 302.90H474.80" stroke="#222" stroke-width="1.1" fill="none"/><path d="M480.40 301.60V304.20M479.50 302.90H481.30" stroke="#222" stroke-width="1.1" fill="none"/><path d="M481.60 301.60V304.20M480.70 302.90H482.50" stroke="#222" stroke-width="1.1" fill="none"/><path d="M485.80 301.60V304.20M484.90 302.90H486.70" stroke="#222" stroke-width="1.1" fill="none"/><path d="M512.00 301.60V304.20M511.10 302.90H512.90" stroke="#222" stroke-width="1.1" fill="none"/><rect x="308.60" y="241.60" width="208.00" height="136.90" fill="none" stroke="#8c8c8c" stroke-width="1.30"/><line x1="305.60" y1="374.10" x2="308.60" y2="374.10" stroke="#4a4a4a" stroke-width="1.15"/><text x="302.20" y="376.80" font-family="Liberation Serif, serif" font-size="9.50" font-weight="normal" text-anchor="end" fill="#111"  stroke="#111" stroke-width="0.36">0.0</text><line x1="305.60" y1="348.60" x2="308.60" y2="348.60" stroke="#4a4a4a" stroke-width="1.15"/><text x="302.20" y="351.30" font-family="Liberation Serif, serif" font-size="9.50" font-weight="normal" text-anchor="end" fill="#111"  stroke="#111" stroke-width="0.36">0.2</text><line x1="305.60" y1="323.10" x2="308.60" y2="323.10" stroke="#4a4a4a" stroke-width="1.15"/><text x="302.20" y="325.80" font-family="Liberation Serif, serif" font-size="9.50" font-weight="normal" text-anchor="end" fill="#111"  stroke="#111" stroke-width="0.36">0.4</text><line x1="305.60" y1="297.60" x2="308.60" y2="297.60" stroke="#4a4a4a" stroke-width="1.15"/><text x="302.20" y="300.30" font-family="Liberation Serif, serif" font-size="9.50" font-weight="normal" text-anchor="end" fill="#111"  stroke="#111" stroke-width="0.36">0.6</text><line x1="305.60" y1="272.10" x2="308.60" y2="272.10" stroke="#4a4a4a" stroke-width="1.15"/><text x="302.20" y="274.80" font-family="Liberation Serif, serif" font-size="9.50" font-weight="normal" text-anchor="end" fill="#111"  stroke="#111" stroke-width="0.36">0.8</text><line x1="305.60" y1="246.60" x2="308.60" y2="246.60" stroke="#4a4a4a" stroke-width="1.15"/><text x="302.20" y="249.30" font-family="Liberation Serif, serif" font-size="9.50" font-weight="normal" text-anchor="end" fill="#111"  stroke="#111" stroke-width="0.36">1.0</text><line x1="308.70" y1="378.50" x2="308.70" y2="381.00" stroke="#4a4a4a" stroke-width="1.15"/><text x="308.70" y="390.60" font-family="Liberation Serif, serif" font-size="9.80" font-weight="normal" text-anchor="middle" fill="#111"  stroke="#111" stroke-width="0.38">0</text><line x1="338.39" y1="378.50" x2="338.39" y2="381.00" stroke="#4a4a4a" stroke-width="1.15"/><text x="338.39" y="390.60" font-family="Liberation Serif, serif" font-size="9.80" font-weight="normal" text-anchor="middle" fill="#111"  stroke="#111" stroke-width="0.38">1</text><line x1="368.08" y1="378.50" x2="368.08" y2="381.00" stroke="#4a4a4a" stroke-width="1.15"/><text x="368.08" y="390.60" font-family="Liberation Serif, serif" font-size="9.80" font-weight="normal" text-anchor="middle" fill="#111"  stroke="#111" stroke-width="0.38">2</text><line x1="397.77" y1="378.50" x2="397.77" y2="381.00" stroke="#4a4a4a" stroke-width="1.15"/><text x="397.77" y="390.60" font-family="Liberation Serif, serif" font-size="9.80" font-weight="normal" text-anchor="middle" fill="#111"  stroke="#111" stroke-width="0.38">3</text><line x1="427.46" y1="378.50" x2="427.46" y2="381.00" stroke="#4a4a4a" stroke-width="1.15"/><text x="427.46" y="390.60" font-family="Liberation Serif, serif" font-size="9.80" font-weight="normal" text-anchor="middle" fill="#111"  stroke="#111" stroke-width="0.38">4</text><line x1="457.15" y1="378.50" x2="457.15" y2="381.00" stroke="#4a4a4a" stroke-width="1.15"/><text x="457.15" y="390.60" font-family="Liberation Serif, serif" font-size="9.80" font-weight="normal" text-anchor="middle" fill="#111"  stroke="#111" stroke-width="0.38">5</text><line x1="486.84" y1="378.50" x2="486.84" y2="381.00" stroke="#4a4a4a" stroke-width="1.15"/><text x="486.84" y="390.60" font-family="Liberation Serif, serif" font-size="9.80" font-weight="normal" text-anchor="middle" fill="#111"  stroke="#111" stroke-width="0.38">6</text><line x1="516.53" y1="378.50" x2="516.53" y2="381.00" stroke="#4a4a4a" stroke-width="1.15"/><text x="516.53" y="390.60" font-family="Liberation Serif, serif" font-size="9.80" font-weight="normal" text-anchor="middle" fill="#111"  stroke="#111" stroke-width="0.38">7</text><text x="346.50" y="251.00" font-family="Liberation Serif, serif" font-size="7.30" font-weight="bold" text-anchor="start" fill="#111" textLength="97.00" lengthAdjust="spacingAndGlyphs"  stroke="#111" stroke-width="0.15">CBT with standard-risk disease</text><text x="346.70" y="276.10" font-family="Liberation Serif, serif" font-size="7.30" font-weight="bold" text-anchor="start" fill="#111" textLength="125.00" lengthAdjust="spacingAndGlyphs"  stroke="#111" stroke-width="0.15">BMT/ PBSCT with standard-risk disease</text><text x="388.40" y="295.80" font-family="Liberation Serif, serif" font-size="7.30" font-weight="bold" text-anchor="start" fill="#111" textLength="82.70" lengthAdjust="spacingAndGlyphs"  stroke="#111" stroke-width="0.15">CBT with high-risk disease</text><text x="388.60" y="337.60" font-family="Liberation Serif, serif" font-size="7.30" font-weight="bold" text-anchor="start" fill="#111" textLength="111.00" lengthAdjust="spacingAndGlyphs"  stroke="#111" stroke-width="0.15">BMT/ PBSCT with high-risk disease</text><text x="375.60" y="398.00" font-family="Liberation Serif, serif" font-size="6.80" font-weight="normal" text-anchor="start" fill="#111" textLength="74.00" lengthAdjust="spacingAndGlyphs"  stroke="#111" stroke-width="0.15">Time after transplantation (y)</text><text x="261.60" y="398.10" font-family="Liberation Serif, serif" font-size="4.75" font-weight="normal" text-anchor="start" fill="#111" textLength="19.70" lengthAdjust="spacingAndGlyphs"  stroke="#111" stroke-width="0.10">No. at risk</text><text x="261.60" y="407.80" font-family="Liberation Serif, serif" font-size="4.75" font-weight="normal" text-anchor="start" fill="#111" textLength="26.00" lengthAdjust="spacingAndGlyphs"  stroke="#111" stroke-width="0.10">BMT/PBSCT</text><text x="276.20" y="413.60" font-family="Liberation Serif, serif" font-size="4.75" font-weight="normal" text-anchor="start" fill="#111" textLength="27.00" lengthAdjust="spacingAndGlyphs"  stroke="#111" stroke-width="0.10">(standard-risk)</text><text x="261.60" y="418.90" font-family="Liberation Serif, serif" font-size="4.75" font-weight="normal" text-anchor="start" fill="#111" textLength="8.50" lengthAdjust="spacingAndGlyphs"  stroke="#111" stroke-width="0.10">CBT</text><text x="276.20" y="418.90" font-family="Liberation Serif, serif" font-size="4.75" font-weight="normal" text-anchor="start" fill="#111" textLength="27.00" lengthAdjust="spacingAndGlyphs"  stroke="#111" stroke-width="0.10">(standard-risk)</text><text x="261.60" y="430.40" font-family="Liberation Serif, serif" font-size="4.75" font-weight="normal" text-anchor="start" fill="#111" textLength="26.00" lengthAdjust="spacingAndGlyphs"  stroke="#111" stroke-width="0.10">BMT/PBSCT</text><text x="275.90" y="435.80" font-family="Liberation Serif, serif" font-size="4.75" font-weight="normal" text-anchor="start" fill="#111" textLength="20.20" lengthAdjust="spacingAndGlyphs"  stroke="#111" stroke-width="0.10">(high-risk)</text><text x="261.60" y="441.80" font-family="Liberation Serif, serif" font-size="4.75" font-weight="normal" text-anchor="start" fill="#111" textLength="8.50" lengthAdjust="spacingAndGlyphs"  stroke="#111" stroke-width="0.10">CBT</text><text x="275.90" y="441.80" font-family="Liberation Serif, serif" font-size="4.75" font-weight="normal" text-anchor="start" fill="#111" textLength="20.20" lengthAdjust="spacingAndGlyphs"  stroke="#111" stroke-width="0.10">(high-risk)</text><text x="308.90" y="407.80" font-family="Liberation Serif, serif" font-size="4.75" font-weight="normal" text-anchor="start" fill="#111"  stroke="#111" stroke-width="0.10">27</text><text x="338.39" y="407.80" font-family="Liberation Serif, serif" font-size="4.75" font-weight="normal" text-anchor="middle" fill="#111"  stroke="#111" stroke-width="0.10">24</text><text x="368.08" y="407.80" font-family="Liberation Serif, serif" font-size="4.75" font-weight="normal" text-anchor="middle" fill="#111"  stroke="#111" stroke-width="0.10">24</text><text x="397.77" y="407.80" font-family="Liberation Serif, serif" font-size="4.75" font-weight="normal" text-anchor="middle" fill="#111"  stroke="#111" stroke-width="0.10">22</text><text x="427.46" y="407.80" font-family="Liberation Serif, serif" font-size="4.75" font-weight="normal" text-anchor="middle" fill="#111"  stroke="#111" stroke-width="0.10">20</text><text x="457.15" y="407.80" font-family="Liberation Serif, serif" font-size="4.75" font-weight="normal" text-anchor="middle" fill="#111"  stroke="#111" stroke-width="0.10">17</text><text x="486.84" y="407.80" font-family="Liberation Serif, serif" font-size="4.75" font-weight="normal" text-anchor="middle" fill="#111"  stroke="#111" stroke-width="0.10">12</text><text x="516.53" y="407.80" font-family="Liberation Serif, serif" font-size="4.75" font-weight="normal" text-anchor="middle" fill="#111"  stroke="#111" stroke-width="0.10">9</text><text x="308.90" y="418.90" font-family="Liberation Serif, serif" font-size="4.75" font-weight="normal" text-anchor="start" fill="#111"  stroke="#111" stroke-width="0.10">43</text><text x="338.39" y="418.90" font-family="Liberation Serif, serif" font-size="4.75" font-weight="normal" text-anchor="middle" fill="#111"  stroke="#111" stroke-width="0.10">36</text><text x="368.08" y="418.90" font-family="Liberation Serif, serif" font-size="4.75" font-weight="normal" text-anchor="middle" fill="#111"  stroke="#111" stroke-width="0.10">25</text><text x="397.77" y="418.90" font-family="Liberation Serif, serif" font-size="4.75" font-weight="normal" text-anchor="middle" fill="#111"  stroke="#111" stroke-width="0.10">18</text><text x="427.46" y="418.90" font-family="Liberation Serif, serif" font-size="4.75" font-weight="normal" text-anchor="middle" fill="#111"  stroke="#111" stroke-width="0.10">14</text><text x="457.15" y="418.90" font-family="Liberation Serif, serif" font-size="4.75" font-weight="normal" text-anchor="middle" fill="#111"  stroke="#111" stroke-width="0.10">6</text><text x="486.84" y="418.90" font-family="Liberation Serif, serif" font-size="4.75" font-weight="normal" text-anchor="middle" fill="#111"  stroke="#111" stroke-width="0.10">3</text><text x="516.53" y="418.90" font-family="Liberation Serif, serif" font-size="4.75" font-weight="normal" text-anchor="middle" fill="#111"  stroke="#111" stroke-width="0.10">0</text><text x="308.90" y="430.40" font-family="Liberation Serif, serif" font-size="4.75" font-weight="normal" text-anchor="start" fill="#111"  stroke="#111" stroke-width="0.10">44</text><text x="338.39" y="430.40" font-family="Liberation Serif, serif" font-size="4.75" font-weight="normal" text-anchor="middle" fill="#111"  stroke="#111" stroke-width="0.10">24</text><text x="368.08" y="430.40" font-family="Liberation Serif, serif" font-size="4.75" font-weight="normal" text-anchor="middle" fill="#111"  stroke="#111" stroke-width="0.10">22</text><text x="397.77" y="430.40" font-family="Liberation Serif, serif" font-size="4.75" font-weight="normal" text-anchor="middle" fill="#111"  stroke="#111" stroke-width="0.10">19</text><text x="427.46" y="430.40" font-family="Liberation Serif, serif" font-size="4.75" font-weight="normal" text-anchor="middle" fill="#111"  stroke="#111" stroke-width="0.10">16</text><text x="457.15" y="430.40" font-family="Liberation Serif, serif" font-size="4.75" font-weight="normal" text-anchor="middle" fill="#111"  stroke="#111" stroke-width="0.10">15</text><text x="486.84" y="430.40" font-family="Liberation Serif, serif" font-size="4.75" font-weight="normal" text-anchor="middle" fill="#111"  stroke="#111" stroke-width="0.10">11</text><text x="516.53" y="430.40" font-family="Liberation Serif, serif" font-size="4.75" font-weight="normal" text-anchor="middle" fill="#111"  stroke="#111" stroke-width="0.10">7</text><text x="308.90" y="441.80" font-family="Liberation Serif, serif" font-size="4.75" font-weight="normal" text-anchor="start" fill="#111"  stroke="#111" stroke-width="0.10">57</text><text x="338.39" y="441.80" font-family="Liberation Serif, serif" font-size="4.75" font-weight="normal" text-anchor="middle" fill="#111"  stroke="#111" stroke-width="0.10">33</text><text x="368.08" y="441.80" font-family="Liberation Serif, serif" font-size="4.75" font-weight="normal" text-anchor="middle" fill="#111"  stroke="#111" stroke-width="0.10">23</text><text x="397.77" y="441.80" font-family="Liberation Serif, serif" font-size="4.75" font-weight="normal" text-anchor="middle" fill="#111"  stroke="#111" stroke-width="0.10">17</text><text x="427.46" y="441.80" font-family="Liberation Serif, serif" font-size="4.75" font-weight="normal" text-anchor="middle" fill="#111"  stroke="#111" stroke-width="0.10">12</text><text x="457.15" y="441.80" font-family="Liberation Serif, serif" font-size="4.75" font-weight="normal" text-anchor="middle" fill="#111"  stroke="#111" stroke-width="0.10">7</text><text x="486.84" y="441.80" font-family="Liberation Serif, serif" font-size="4.75" font-weight="normal" text-anchor="middle" fill="#111"  stroke="#111" stroke-width="0.10">2</text><text x="516.53" y="441.80" font-family="Liberation Serif, serif" font-size="4.75" font-weight="normal" text-anchor="middle" fill="#111"  stroke="#111" stroke-width="0.10">1</text></svg></body></html>
